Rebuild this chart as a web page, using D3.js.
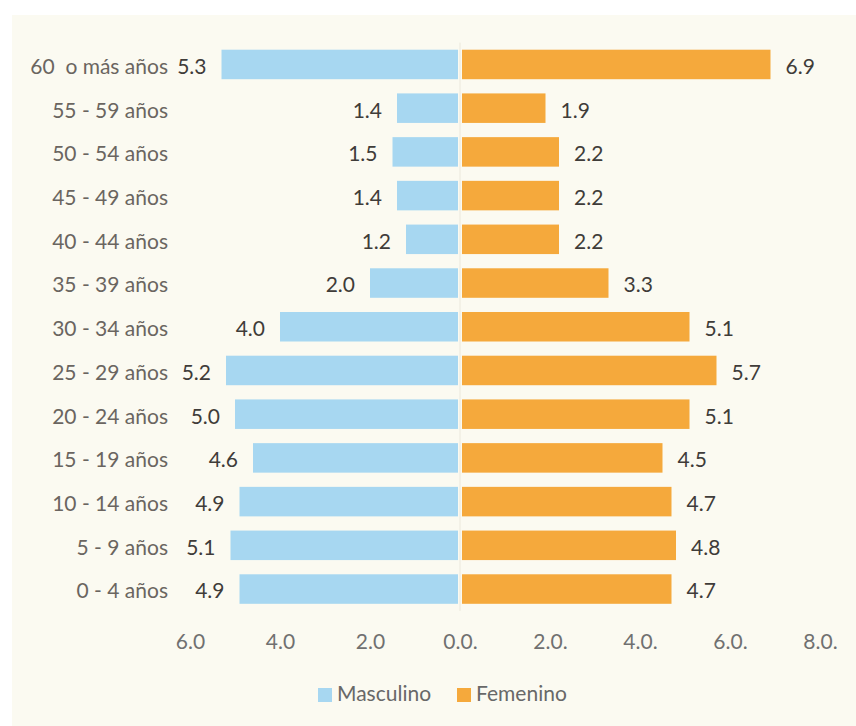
<!DOCTYPE html>
<html lang="es">
<head>
<meta charset="utf-8">
<script src="https://cdn.jsdelivr.net/npm/d3@7"></script>
<style>
  html, body { margin: 0; padding: 0; background: #ffffff; }
  svg { display: block; }
  text { font-family: Lato, "Open Sans", sans-serif; white-space: pre; }
</style>
</head>
<body>
<svg id="chart" width="856" height="726"></svg>
<script>
// Population by age group and sex (percent)
const categories = [
  "60  o más años", "55 - 59 años", "50 - 54 años", "45 - 49 años",
  "40 - 44 años", "35 - 39 años", "30 - 34 años", "25 - 29 años",
  "20 - 24 años", "15 - 19 años", "10 - 14 años", "5 - 9 años", "0 - 4 años"
];
const masculino = [5.3, 1.4, 1.5, 1.4, 1.2, 2.0, 4.0, 5.2, 5.0, 4.6, 4.9, 5.1, 4.9];
const femenino  = [6.9, 1.9, 2.2, 2.2, 2.2, 3.3, 5.1, 5.7, 5.1, 4.5, 4.7, 4.8, 4.7];
const tickValues = [-6, -4, -2, 0, 2, 4, 6, 8];
const tickLabels = ["6.0", "4.0", "2.0", "0.0.", "2.0.", "4.0.", "6.0.", "8.0."];
const seriesNames = ["Masculino", "Femenino"];

const colors = { m: "#a7d7f1", f: "#f5a93c" };
const svg = d3.select("#chart");

// cream panel
svg.append("rect")
  .attr("x", 12).attr("y", 15)
  .attr("width", 844).attr("height", 711)
  .attr("fill", "#fbfaf1");

const x = d3.scaleLinear().domain([-6, 8]).range([190, 820]);
const y = d3.scaleBand().domain(categories)
  .range([42.6, 610.9]).paddingInner(0.325).paddingOuter(0.1625);

const x0 = x(0);
const gap = 2;

// centre axis line
svg.append("line")
  .attr("x1", x0).attr("x2", x0)
  .attr("y1", y.range()[0]).attr("y2", y.range()[1])
  .attr("stroke", "#ebe8dc").attr("stroke-width", 1);

const rows = categories.map((c, i) => ({ c, m: masculino[i], f: femenino[i] }));

// male bars (extend to the left)
svg.append("g").selectAll("rect").data(rows).join("rect")
  .attr("x", d => x(-d.m))
  .attr("y", d => y(d.c))
  .attr("width", d => x0 - gap - x(-d.m))
  .attr("height", y.bandwidth())
  .attr("fill", colors.m);

// female bars (extend to the right)
svg.append("g").selectAll("rect").data(rows).join("rect")
  .attr("x", x0 + gap)
  .attr("y", d => y(d.c))
  .attr("width", d => x(d.f) - x0 - gap)
  .attr("height", y.bandwidth())
  .attr("fill", colors.f);

const fs = 21;
const labelGap = 15;
const mid = d => y(d.c) + y.bandwidth() / 2 + 2;

// category labels
svg.append("g").selectAll("text").data(rows).join("text")
  .attr("x", 168).attr("y", mid)
  .attr("dy", "0.35em")
  .attr("text-anchor", "end")
  .attr("font-size", fs)
  .attr("fill", "#6a6560")
  .text(d => d.c);

// value labels
svg.append("g").selectAll("text").data(rows).join("text")
  .attr("x", d => x(-d.m) - labelGap).attr("y", mid)
  .attr("dy", "0.35em")
  .attr("text-anchor", "end")
  .attr("font-size", fs)
  .attr("fill", "#3f3c39")
  .text(d => d.m.toFixed(1));

svg.append("g").selectAll("text").data(rows).join("text")
  .attr("x", d => x(d.f) + labelGap).attr("y", mid)
  .attr("dy", "0.35em")
  .attr("text-anchor", "start")
  .attr("font-size", fs)
  .attr("fill", "#3f3c39")
  .text(d => d.f.toFixed(1));

// bottom axis
const axis = d3.axisBottom(x)
  .tickValues(tickValues)
  .tickFormat((d, i) => tickLabels[i])
  .tickSize(0).tickPadding(0);
const gAxis = svg.append("g").attr("transform", "translate(0,634)").call(axis);
gAxis.select(".domain").remove();
gAxis.selectAll("text")
  .attr("dy", "0.71em")
  .attr("font-size", fs)
  .attr("font-family", "Lato, 'Open Sans', sans-serif")
  .attr("fill", "#707070");

// legend
const legend = svg.append("g").attr("transform", "translate(318,688)");
const items = [
  { name: seriesNames[0], color: colors.m, dx: 0 },
  { name: seriesNames[1], color: colors.f, dx: 139 }
];
const li = legend.selectAll("g").data(items).join("g")
  .attr("transform", d => `translate(${d.dx},0)`);
li.append("rect").attr("width", 14).attr("height", 14).attr("fill", d => d.color);
li.append("text")
  .attr("x", 19).attr("y", 13)
  .attr("font-size", fs)
  .attr("fill", "#686868")
  .text(d => d.name);
</script>
</body>
</html>
